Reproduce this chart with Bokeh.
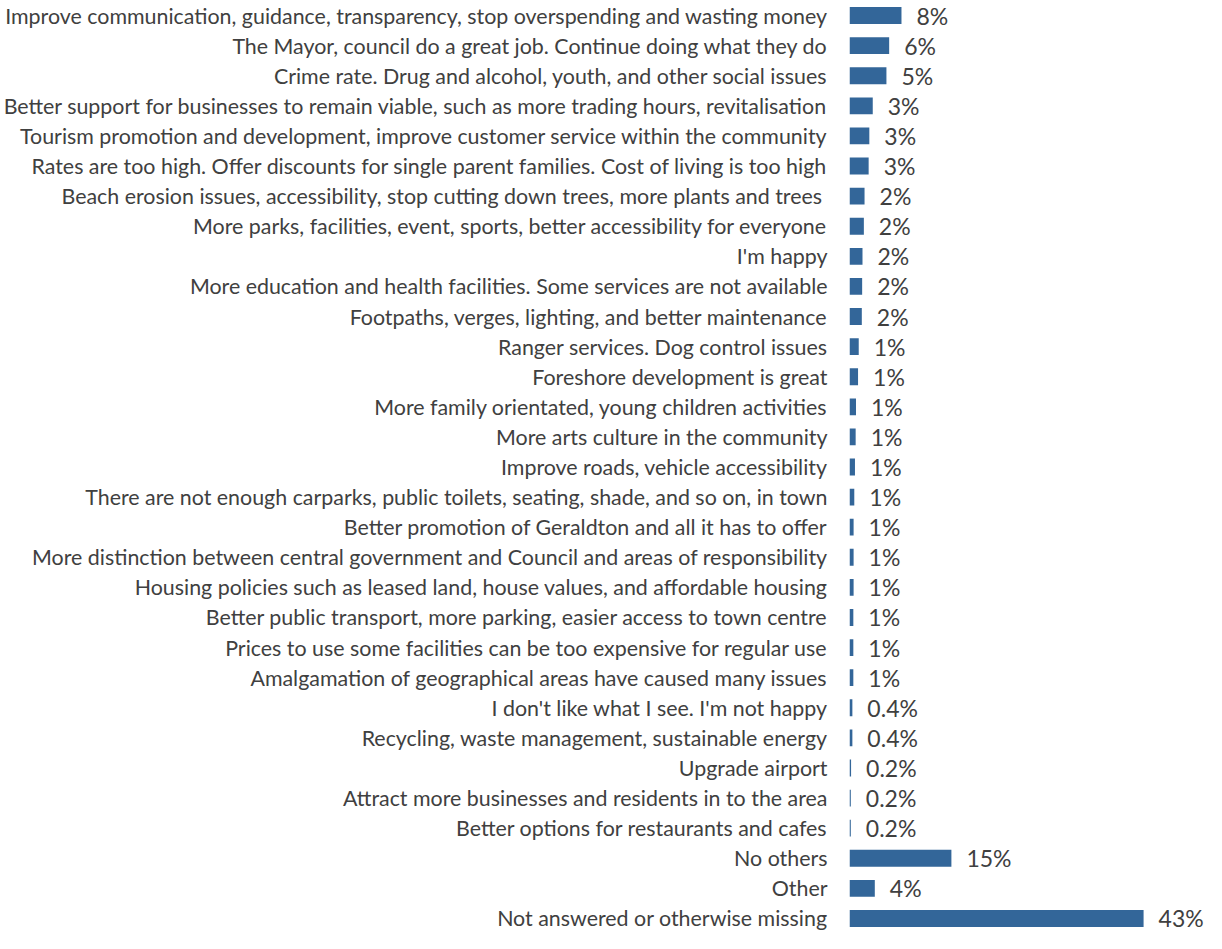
from bokeh.plotting import figure
from bokeh.models import ColumnDataSource, FactorRange, Range1d
from bokeh.core.properties import value
from bokeh.embed import file_html
from bokeh.resources import INLINE

categories = [
    "Improve communication, guidance, transparency, stop overspending and wasting money",
    "The Mayor, council do a great job. Continue doing what they do",
    "Crime rate. Drug and alcohol, youth, and other social issues",
    "Better support for businesses to remain viable, such as more trading hours, revitalisation",
    "Tourism promotion and development, improve customer service within the community",
    "Rates are too high. Offer discounts for single parent families. Cost of living is too high",
    "Beach erosion issues, accessibility, stop cutting down trees,  more plants and trees",
    "More parks, facilities, event, sports, better accessibility for everyone",
    "I'm happy",
    "More education and health facilities. Some services are not available",
    "Footpaths, verges, lighting, and better maintenance",
    "Ranger services. Dog control issues",
    "Foreshore development is great",
    "More family orientated, young children activities",
    "More arts culture in the community",
    "Improve roads, vehicle accessibility",
    "There are not enough carparks, public toilets, seating, shade, and so on, in town",
    "Better promotion of Geraldton and all it has to offer",
    "More distinction between central government and Council and areas of responsibility",
    "Housing policies such as leased land, house values, and affordable housing",
    "Better public transport, more parking, easier access to town centre",
    "Prices to use some facilities can be too expensive for regular use",
    "Amalgamation of geographical areas have caused many issues",
    "I don't like what I see. I'm not happy",
    "Recycling, waste management, sustainable energy",
    "Upgrade airport",
    "Attract more businesses and residents in to the area",
    "Better options for restaurants and cafes",
    "No others",
    "Other",
    "Not answered or otherwise missing",
]

values = [7.6, 5.8, 5.4, 3.4, 2.9, 2.8, 2.2, 2.1, 1.9, 1.85, 1.8, 1.35, 1.25,
          0.95, 0.9, 0.8, 0.7, 0.6, 0.6, 0.6, 0.56, 0.56, 0.56, 0.42, 0.42,
          0.23, 0.19, 0.19, 14.9, 3.7, 43.0]

value_labels = ["8%", "6%", "5%", "3%", "3%", "3%", "2%", "2%", "2%", "2%", "2%",
                "1%", "1%", "1%", "1%", "1%", "1%", "1%", "1%", "1%", "1%", "1%",
                "1%", "0.4%", "0.4%", "0.2%", "0.2%", "0.2%", "15%", "4%", "43%"]

BAR = "#336699"
TXT = "#404040"

source = ColumnDataSource(data=dict(cat=categories, val=values, lab=value_labels))

p = figure(
    y_range=FactorRange(factors=list(reversed(categories)), range_padding=0),
    x_range=Range1d(0, 52.2),
    width=1206, height=933,
    output_backend="svg", toolbar_location=None,
    x_axis_location=None,
    min_border_top=0, min_border_bottom=0, min_border_right=0, min_border_left=0,
)

p.hbar(y="cat", right="val", left=0, height=0.56, source=source,
       fill_color=BAR, line_color=None)

p.text(x="val", y="cat", text="lab", source=source,
       x_offset=15, text_align="left", text_baseline="middle",
       text_font=value("Lato"), text_font_size="23px", text_color=TXT)

p.yaxis.axis_line_color = None
p.yaxis.major_tick_line_color = None
p.yaxis.minor_tick_line_color = None
p.yaxis.major_tick_out = 0
p.yaxis.major_tick_in = 0
p.yaxis.major_label_standoff = 22
p.yaxis.major_label_text_font = "Lato"
p.yaxis.major_label_text_font_size = "21.4px"
p.yaxis.major_label_text_color = TXT

p.xgrid.visible = False
p.ygrid.visible = False
p.outline_line_color = None

open("out.html", "w").write(file_html(p, INLINE))
